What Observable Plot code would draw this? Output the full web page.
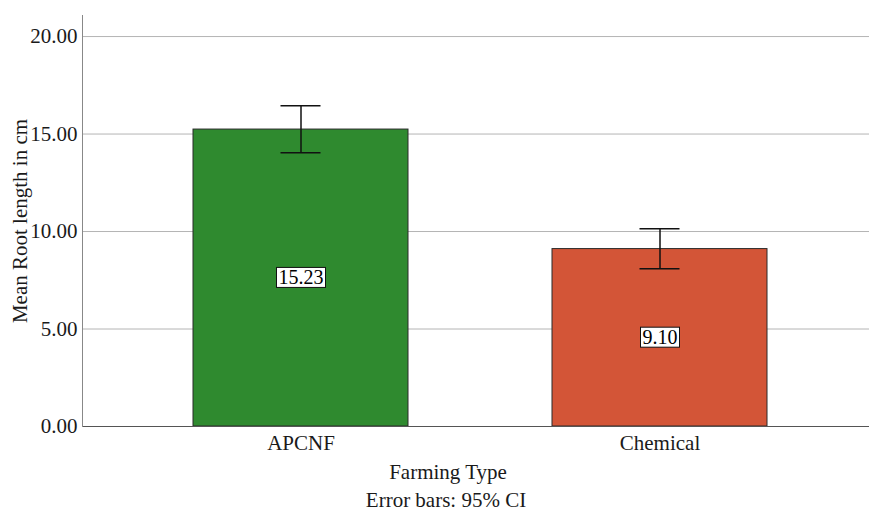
<!DOCTYPE html>
<html>
<head>
<meta charset="utf-8">
<script src="https://cdn.jsdelivr.net/npm/d3@7"></script>
<script src="https://cdn.jsdelivr.net/npm/@observablehq/plot@0.6"></script>
<style>
  html, body { margin: 0; padding: 0; background: #fff; }
  #wrap { position: relative; width: 869px; height: 512px; font-family: "Liberation Serif", "Times New Roman", serif; color: #1a1a1a; }
  .cap { position: absolute; transform: translateX(-50%); white-space: nowrap; font-size: 21px; line-height: 24px; }
</style>
</head>
<body>
<div id="wrap"></div>
<script>
const categories = ["APCNF", "Chemical"];
const means = [15.23, 9.10];
const ciLow = [14.04, 8.09];
const ciHigh = [16.45, 10.14];
const barColors = ["#2f8a2f", "#d35537"];
const yTicks = [0, 5, 10, 15, 20];
const yLabel = "Mean Root length in cm";
const xLabel = "Farming Type";
const note = "Error bars: 95% CI";

const data = categories.map((c, i) => ({cat: c, mean: means[i], lo: ciLow[i], hi: ciHigh[i], color: barColors[i]}));
const fmt = d3.format(".2f");

const plot = Plot.plot({
  width: 869,
  height: 460,
  marginLeft: 82,
  marginRight: 0,
  marginTop: 15,
  marginBottom: 34,
  style: {fontFamily: "Liberation Serif, Times New Roman, serif", fontSize: "21px", color: "#1a1a1a", background: "#fff"},
  x: {domain: categories, range: [82, 878.5], paddingInner: 0.402, paddingOuter: 0.309, label: null},
  y: {domain: [0, 21.08], ticks: yTicks, tickFormat: fmt, label: yLabel},
  marks: [
    Plot.gridY(yTicks.filter(d => d > 0), {stroke: "#b4b4b4", strokeOpacity: 1}),
    Plot.barY(data, {x: "cat", y: "mean", fill: "color", stroke: "#2a2a2a", strokeWidth: 1}),
    Plot.ruleX(data, {x: "cat", y1: "lo", y2: "hi", stroke: "#111", strokeWidth: 1.5}),
    Plot.tickY(data, {x: "cat", y: "lo", stroke: "#111", strokeWidth: 1.5, insetLeft: 87.5, insetRight: 87.5}),
    Plot.tickY(data, {x: "cat", y: "hi", stroke: "#111", strokeWidth: 1.5, insetLeft: 87.5, insetRight: 87.5}),
    Plot.text(data, {x: "cat", y: d => d.mean / 2, text: d => fmt(d.mean), fill: "#000", fontSize: 20, className: "vlabel"}),
    Plot.ruleY([0], {stroke: "#555", strokeWidth: 1}),
    Plot.frame({anchor: "left", stroke: "#888"}),
    Plot.axisX({tickSize: 0, tickPadding: 9, fontSize: 21, label: null}),
    Plot.axisY({ticks: yTicks, tickFormat: fmt, tickSize: 0, tickPadding: 5, fontSize: 21, label: yLabel, labelAnchor: "center", labelArrow: "none", labelOffset: 70})
  ]
});

const wrap = document.getElementById("wrap");
wrap.appendChild(plot);

// white boxes behind value labels
plot.querySelectorAll("g.vlabel text, .vlabel text").forEach(t => {
  const b = t.getBBox();
  const r = document.createElementNS("http://www.w3.org/2000/svg", "rect");
  r.setAttribute("x", b.x - 2);
  r.setAttribute("y", b.y + 1);
  r.setAttribute("width", b.width + 4);
  r.setAttribute("height", b.height - 2);
  r.setAttribute("fill", "#fff");
  r.setAttribute("stroke", "#111");
  r.setAttribute("stroke-width", "1");
  const tr = t.getAttribute("transform");
  if (tr) r.setAttribute("transform", tr);
  t.parentNode.insertBefore(r, t);
});

const c1 = document.createElement("div");
c1.className = "cap"; c1.textContent = xLabel;
c1.style.left = "448px"; c1.style.top = "460px";
const c2 = document.createElement("div");
c2.className = "cap"; c2.textContent = note;
c2.style.left = "446px"; c2.style.top = "488px";
wrap.appendChild(c1); wrap.appendChild(c2);
</script>
</body>
</html>
